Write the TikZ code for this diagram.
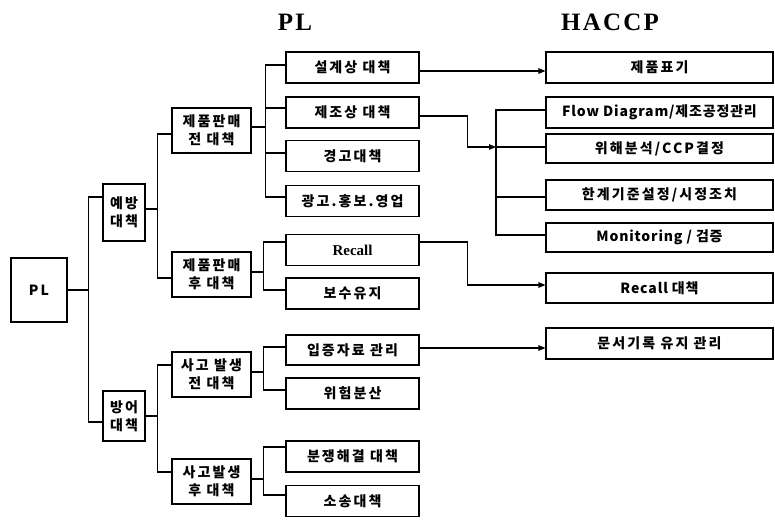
\documentclass[tikz,border=0pt]{standalone}
\usepackage{fontspec}
\setmainfont{Liberation Serif}
\newfontfamily\kr{Noto Sans CJK KR}[LetterSpace=15]
\newfontfamily\krn{Noto Sans CJK KR}[LetterSpace=6]
\newfontfamily\ttlfont{Liberation Serif}[LetterSpace=9]
\usetikzlibrary{arrows.meta}
\begin{document}
\begin{tikzpicture}[x=1pt,y=-1pt,
  box/.style={draw, line width=1.1pt, inner sep=0pt, align=center,
    font=\kr\bfseries\fontsize{14}{18}\selectfont},
  mixed/.style={font=\krn\bfseries\fontsize{14}{18}\selectfont},
  l1/.style={box, minimum width=42pt},
  l2/.style={box, minimum width=79pt, minimum height=45pt},
  l3/.style={box, minimum width=133pt, minimum height=31pt},
  l4/.style={box, minimum width=227pt, minimum height=30pt},
  ttl/.style={font=\ttlfont\bfseries\fontsize{25}{25}\selectfont},
  ln/.style={line width=1.1pt},
  arr/.style={ln, -{Triangle[length=7pt,width=5.5pt]}}]
\useasboundingbox (0,0) rectangle (775,519);

% titles
\node[ttl] (tpl) at (295,22) {PL};
\node[ttl] (thaccp) at (610,22) {HACCP};

% level 0
\node[box, minimum width=56pt, minimum height=64pt] (pl) at (39,290) {PL};

% level 1
\node[l1, minimum height=57pt] (yebang) at (124,212.5) {예방\\대책};
\node[l1, minimum height=50pt] (bangeo) at (124,416) {방어\\대책};

% level 2
\node[l2] (jeon) at (211.5,130.5) {제품판매\\전 대책};
\node[l2] (hu) at (211.5,274.5) {제품판매\\후 대책};
\node[l2] (sajeon) at (211.5,374.5) {사고 발생\\전 대책};
\node[l2] (sahu) at (211.5,481.5) {사고발생\\후 대책};

% level 3
\node[l3] (seolgye) at (352.5,67.5) {설계상 대책};
\node[l3] (jejo) at (352.5,112.5) {제조상 대책};
\node[l3] (gyeonggo) at (352.5,156) {경고대책};
\node[l3] (gwanggo) at (352.5,201) {광고.홍보.영업};
\node[l3, font=\rmfamily\bfseries\fontsize{15}{18}\selectfont] (recall) at (352.5,250) {Recall};
\node[l3] (bosu) at (352.5,293.5) {보수유지};
\node[l3, minimum height=30pt] (ipjeung) at (352.5,350) {입증자료 관리};
\node[l3] (wiheom) at (352.5,393.5) {위험분산};
\node[l3] (bunjaeng) at (352.5,456.5) {분쟁해결 대책};
\node[l3] (sosong) at (352.5,501) {소송대책};

% level 4
\node[l4, minimum height=31pt] (pyogi) at (659.5,67.5) {제품표기};
\node[l4, mixed, minimum height=31pt] (flow) at (659.5,112.5) {Flow Diagram/제조공정관리};
\node[l4, minimum height=29pt] (wihae) at (659.5,148.5) {위해분석/CCP결정};
\node[l4] (hangye) at (659.5,195) {한계기준설정/시정조치};
\node[l4, mixed, minimum height=29pt] (mon) at (659.5,237.5) {Monitoring / 검증};
\node[l4, mixed] (recalld) at (659.5,288) {Recall 대책};
\node[l4, minimum height=31pt] (munseo) at (659.5,343.5) {문서기록 유지 관리};

% tree PL -> level 1
\draw[ln] (pl.east) -- ++(21,0) |- ([yshift=15.5pt]yebang.west);
\draw[ln] (pl.east) -- ++(21,0) |- ([yshift=-6pt]bangeo.west);

% level 1 -> level 2
\draw[ln] ([yshift=3.5pt]yebang.east) -- ++(12,0) |- ([yshift=-3.5pt]jeon.west);
\draw[ln] ([yshift=3.5pt]yebang.east) -- ++(12,0) |- ([yshift=-3.5pt]hu.west);
\draw[ln] (bangeo.east) -- ++(12,0) |- ([yshift=9.5pt]sajeon.west);
\draw[ln] (bangeo.east) -- ++(12,0) |- ([yshift=9.5pt]sahu.west);

% level 2 -> level 3
\draw[ln] ([yshift=3.5pt]jeon.east) -- ++(14,0) |- ([yshift=2.5pt]seolgye.west);
\draw[ln] ([yshift=3.5pt]jeon.east) -- ++(14,0) |- ([yshift=4.5pt]jejo.west);
\draw[ln] ([yshift=3.5pt]jeon.east) -- ++(14,0) |- ([yshift=3pt]gyeonggo.west);
\draw[ln] ([yshift=3.5pt]jeon.east) -- ++(14,0) |- ([yshift=4pt]gwanggo.west);
\draw[ln] ([yshift=2.5pt]hu.east) -- ++(12,0) |- ([yshift=8pt]recall.west);
\draw[ln] ([yshift=2.5pt]hu.east) -- ++(12,0) |- ([yshift=3.5pt]bosu.west);
\draw[ln] ([yshift=2.5pt]sajeon.east) -- ++(12,0) |- ([yshift=3pt]ipjeung.west);
\draw[ln] ([yshift=2.5pt]sajeon.east) -- ++(12,0) |- ([yshift=3.5pt]wiheom.west);
\draw[ln] ([yshift=2.5pt]sahu.east) -- ++(12,0) |- ([yshift=9.5pt]bunjaeng.west);
\draw[ln] ([yshift=2.5pt]sahu.east) -- ++(12,0) |- ([yshift=6pt]sosong.west);

% PL -> HACCP
\coordinate (s1) at ([yshift=-3.5pt]seolgye.east);
\draw[arr] (s1) -- (s1 -| pyogi.west);

\coordinate (bus) at (496,147);
\draw[arr] ([yshift=-3.5pt]jejo.east) -- ++(48,0) |- (bus);
\draw[ln] (bus) -- (bus -| wihae.west);
\coordinate (f1) at ([yshift=2.5pt]flow.west);
\coordinate (m1) at ([yshift=2.5pt]mon.west);
\coordinate (h1) at ([yshift=-2pt]hangye.west);
\draw[ln] (f1) -| (bus) |- (m1);
\draw[ln] (h1) -- (h1 -| bus);

\coordinate (r1) at ([yshift=8pt]recall.east);
\coordinate (r2) at ([yshift=3pt]recalld.west);
\draw[arr] (r1) -- ++(48,0) |- (r2);

\coordinate (i1) at ([yshift=2pt]ipjeung.east);
\draw[arr] (i1) -- (i1 -| munseo.west);
\end{tikzpicture}
\end{document}
